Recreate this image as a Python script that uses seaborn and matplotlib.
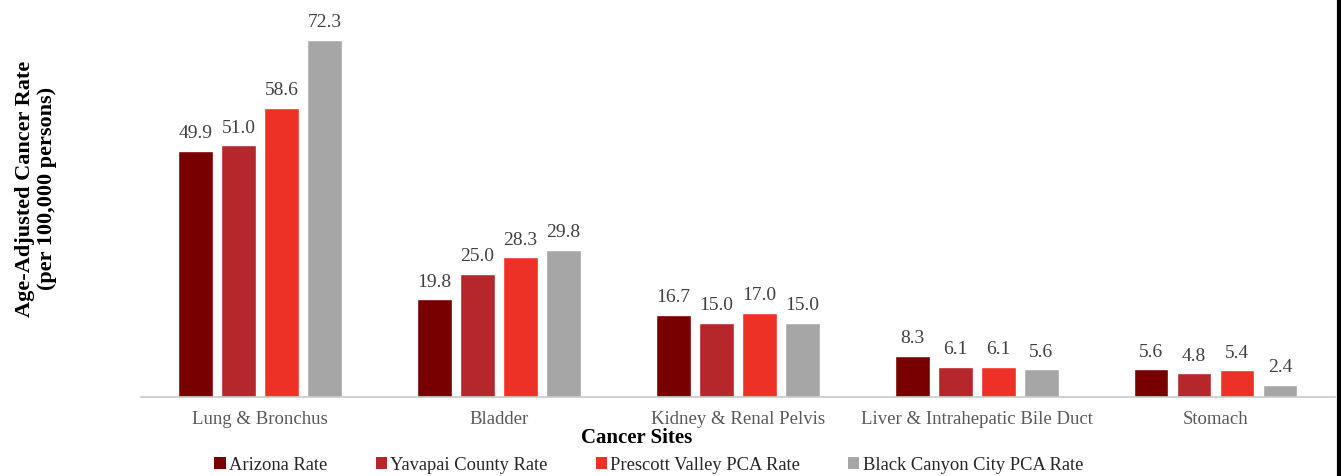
import matplotlib

matplotlib.use("Agg")

import matplotlib.pyplot as plt
import pandas as pd
import seaborn as sns
from matplotlib.lines import Line2D
from matplotlib.patches import Patch


SITES = [
    "Lung & Bronchus",
    "Bladder",
    "Kidney & Renal Pelvis",
    "Liver & Intrahepatic Bile Duct",
    "Stomach",
]
SERIES = [
    "Arizona Rate",
    "Yavapai County Rate",
    "Prescott Valley PCA Rate",
    "Black Canyon City PCA Rate",
]
ARIZONA = [49.9, 19.8, 16.7, 8.3, 5.6]
YAVAPAI = [51.0, 25.0, 15.0, 6.1, 4.8]
PRESCOTT = [58.6, 28.3, 17.0, 6.1, 5.4]
BLACK_CANYON = [72.3, 29.8, 15.0, 5.6, 2.4]
COLORS = ["#780000", "#B5272A", "#EE3126", "#A6A6A6"]


def build_frame() -> pd.DataFrame:
    rows = []
    for name, values in zip(SERIES, [ARIZONA, YAVAPAI, PRESCOTT, BLACK_CANYON]):
        for site, value in zip(SITES, values):
            rows.append({"site": site, "series": name, "rate": value})
    return pd.DataFrame(rows)


def main() -> None:
    sns.set_theme(style="white")
    plt.rcParams["font.family"] = ["Liberation Serif", "DejaVu Serif"]

    df = build_frame()
    fig = plt.figure(figsize=(13.41, 4.77), dpi=100)
    ax = fig.add_axes([0.105, 0.1656, 0.8905, 0.828])

    sns.barplot(
        data=df,
        x="site",
        y="rate",
        hue="series",
        order=SITES,
        hue_order=SERIES,
        palette=COLORS,
        width=0.72,
        gap=0.19,
        saturation=1,
        legend=False,
        ax=ax,
    )

    for container in ax.containers:
        ax.bar_label(container, fmt="%.1f", padding=7, fontsize=14, color="#404040")

    ax.set_xlim(-0.5, len(SITES) - 0.5)
    ax.set_ylim(0, 80)
    ax.set_yticks([])
    ax.set_xlabel("")
    ax.set_ylabel("")

    for side in ["top", "right", "left"]:
        ax.spines[side].set_visible(False)
    ax.spines["bottom"].set_color("#C8C8C8")
    ax.spines["bottom"].set_linewidth(1.2)

    ax.set_xticks(range(len(SITES)))
    ax.set_xticklabels(SITES, fontsize=13.5, color="#595959")
    ax.set_xticks([i - 0.5 for i in range(len(SITES) + 1)], minor=True)
    ax.tick_params(axis="x", which="major", length=0, pad=9)
    ax.tick_params(axis="x", which="minor", length=6, color="#C8C8C8", width=1.2)

    fig.text(
        0.027, 0.605, "Age-Adjusted Cancer Rate\n(per 100,000 persons)",
        rotation=90, ha="center", va="center", fontsize=16,
        fontweight="bold", color="black", linespacing=1.15,
    )
    fig.text(
        637 / 1341, 1 - 438 / 477, "Cancer Sites",
        ha="center", va="center", fontsize=15, fontweight="bold", color="black",
    )

    handles = [Patch(facecolor=c, edgecolor="none") for c in COLORS]
    fig.legend(
        handles, SERIES, loc="center", bbox_to_anchor=(649 / 1341, 1 - 466 / 477),
        ncol=4, frameon=False, fontsize=13.3, handlelength=0.6, handleheight=0.6,
        handletextpad=0.2, columnspacing=2.6, labelcolor="#262626",
    )

    fig.add_artist(Line2D([0.9985, 0.9985], [0, 1], transform=fig.transFigure,
                          color="black", linewidth=3))

    fig.savefig("out.png", dpi=100)
    plt.close(fig)


if __name__ == "__main__":
    main()
